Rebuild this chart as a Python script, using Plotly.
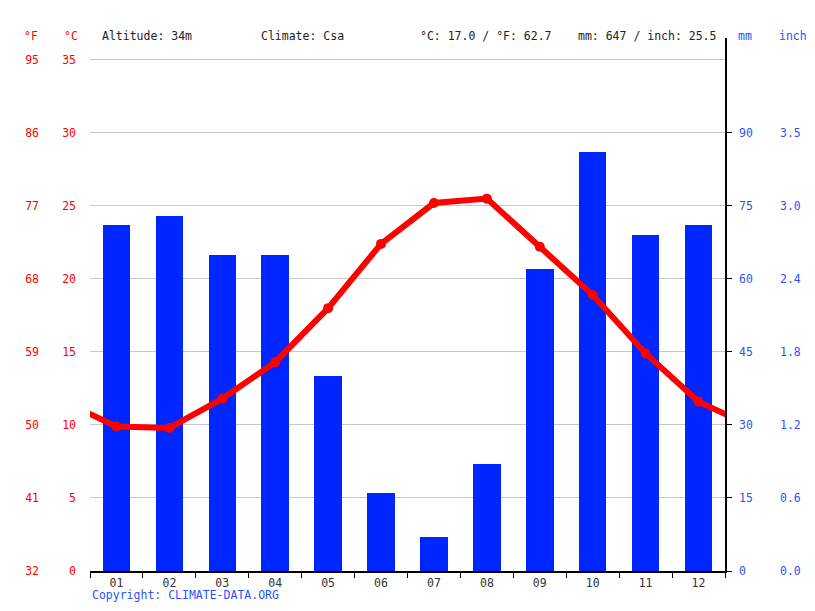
import plotly.graph_objects as go

# monthly climate values
months = ["01", "02", "03", "04", "05", "06", "07", "08", "09", "10", "11", "12"]
temp_c = [9.9, 9.8, 11.8, 14.3, 18.0, 22.4, 25.2, 25.5, 22.2, 18.9, 14.9, 11.6]
precip_mm = [71, 73, 65, 65, 40, 16, 7, 22, 62, 86, 69, 71]

c_ticks = [0, 5, 10, 15, 20, 25, 30, 35]
f_ticks = [32, 41, 50, 59, 68, 77, 86, 95]
mm_ticks = [0, 15, 30, 45, 60, 75, 90]
inch_labels = ["0.0", "0.6", "1.2", "1.8", "2.4", "3.0", "3.5"]

C_TOP = 36.5
MM_PER_C = 3

RED = "#ff0000"
BLUE = "#0026ff"
LBL_BLUE = "#2a52ff"
FONT = "DejaVu Sans Mono"
FS = 11.5

x = list(range(1, 13))
# wrap the line around the year so it runs to both edges
x_line = [0] + x + [13]
t_line = [temp_c[-1]] + temp_c + [temp_c[0]]

fig = go.Figure()

fig.add_trace(go.Bar(x=x, y=precip_mm, marker_color=BLUE, marker_line_width=0,
                     width=0.52, yaxis="y", showlegend=False))
fig.add_trace(go.Scatter(x=x_line, y=t_line, mode="lines", yaxis="y2",
                         line=dict(color=RED, width=6), showlegend=False))
fig.add_trace(go.Scatter(x=x, y=temp_c, mode="markers", yaxis="y2",
                         marker=dict(color=RED, size=10), showlegend=False))
# empty traces so the free °F / inch axes get drawn
fig.add_trace(go.Scatter(x=[], y=[], yaxis="y3", showlegend=False, hoverinfo="skip"))
fig.add_trace(go.Scatter(x=[], y=[], yaxis="y4", showlegend=False, hoverinfo="skip"))

# page has an 8px body margin, so the figure is 16px smaller and offsets are -8
W, H = 799, 595
ML, MR = 4, 4
TOP, BOT = 30, 563
pw = W - ML - MR
ph = BOT - TOP
dom0 = (82 - ML) / pw
dom1 = (717 - ML) / pw


def px_x(p):
    return (p - ML) / pw


def px_y(p):
    return (BOT - p) / ph


fig.update_layout(
    width=W, height=H,
    margin=dict(l=ML, r=MR, t=TOP, b=H - BOT),
    paper_bgcolor="white", plot_bgcolor="white",
    font=dict(family=FONT, size=FS),
    bargap=0,
    xaxis=dict(domain=[dom0, dom1], range=[0.5, 12.5], tickvals=x, ticktext=months,
               ticks="", showgrid=False, zeroline=False, showline=True,
               linecolor="black", linewidth=1.5, tickfont=dict(color="#333", size=FS),
               minor=dict(tick0=0.5, dtick=1, ticks="outside", ticklen=5,
                          tickcolor="black", tickwidth=1.2, showgrid=False)),
    yaxis=dict(range=[0, C_TOP * MM_PER_C], side="right", anchor="x",
               tickvals=mm_ticks, showgrid=False, zeroline=False,
               showline=True, linecolor="black", linewidth=1.5,
               ticks="outside", ticklen=5, tickcolor="black", ticklabelstandoff=5,
               tickfont=dict(color=LBL_BLUE, size=FS)),
    yaxis2=dict(range=[0, C_TOP], overlaying="y", side="left", anchor="x",
                tickvals=c_ticks, showgrid=True, gridcolor="#c8c8c8", gridwidth=1,
                zeroline=False, showline=False, ticks="", ticklabelstandoff=13,
                tickfont=dict(color=RED, size=FS)),
    yaxis3=dict(range=[32, 32 + C_TOP * 1.8], overlaying="y", side="left",
                anchor="free", position=px_x(31), tickvals=f_ticks,
                showgrid=False, zeroline=False, showline=False, ticks="",
                ticklabelstandoff=0, tickfont=dict(color=RED, size=FS)),
    yaxis4=dict(range=[0, C_TOP * MM_PER_C], overlaying="y", side="right",
                anchor="free", position=px_x(771), tickvals=mm_ticks,
                ticktext=inch_labels, showgrid=False, zeroline=False,
                showline=False, ticks="", ticklabelstandoff=0,
                tickfont=dict(color=LBL_BLUE, size=FS)),
)

# header row
hdr = [
    (23, "°F", RED, "center"), (63, "°C", RED, "center"),
    (92, "Altitude: 34m", "#222", "left"), (251, "Climate: Csa", "#222", "left"),
    (410, "°C: 17.0 / °F: 62.7", "#222", "left"),
    (568, "mm: 647 / inch: 25.5", "#222", "left"),
    (737, "mm", LBL_BLUE, "center"), (785, "inch", LBL_BLUE, "center"),
]
for px, txt, col, al in hdr:
    fig.add_annotation(x=px_x(px), y=px_y(28), xref="paper", yref="paper",
                       text=txt, showarrow=False, xanchor=al, yanchor="middle",
                       font=dict(color=col, size=FS))

fig.add_annotation(x=dom0, y=px_y(587), xref="paper", yref="paper",
                   text="Copyright: CLIMATE-DATA.ORG", showarrow=False,
                   xanchor="left", yanchor="middle", font=dict(color=LBL_BLUE, size=FS))

fig.write_html("out.html")
